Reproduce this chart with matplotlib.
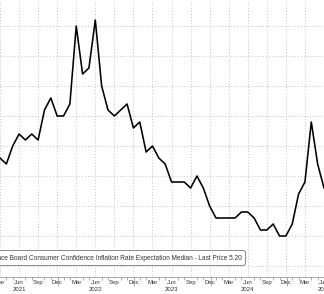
import matplotlib
matplotlib.use("Agg")
import matplotlib.pyplot as plt
import matplotlib.transforms as mtransforms
import numpy as np

plt.rcParams['font.family'] = ['Liberation Sans', 'DejaVu Sans']

# Monthly series, Mar 2021 .. Jun 2025
months = ['Mar', 'Apr', 'May', 'Jun', 'Jul', 'Aug', 'Sep', 'Oct', 'Nov', 'Dec', 'Jan', 'Feb']
start_year = 2021
values = [6.3, 6.2, 6.5, 6.7, 6.6, 6.7, 6.6, 7.1, 7.3, 7.0,   # 2021 Mar-Dec
          7.0, 7.2, 8.5, 7.7, 7.8, 8.6, 7.5, 7.1, 7.0, 7.1, 7.2, 6.8,   # 2022
          6.9, 6.4, 6.5, 6.3, 6.2, 5.9, 5.9, 5.9, 5.8, 6.0, 5.8, 5.5,   # 2023
          5.3, 5.3, 5.3, 5.3, 5.4, 5.4, 5.3, 5.1, 5.1, 5.2, 5.0, 5.0,   # 2024
          5.2, 5.7, 5.9, 6.9, 6.2, 5.8]                                 # 2025
legend_text = ("Conference Board Consumer Confidence Inflation Rate "
               "Expectation Median - Last Price 5.20")

x = np.arange(len(values))

fig = plt.figure(figsize=(3.24, 2.94), dpi=100)
ax = fig.add_axes([0, 17 / 294, 1, 277 / 294])

ax.plot(x, values, color='black', lw=1.15, zorder=3)

ax.set_xlim(0.674, 50.9)
ax.set_ylim(4.317, 8.933)

# quarter ticks with labels, year under Jun
qpos = [i for i in x if i % 3 == 0]
qlab = []
for i in qpos:
    m = months[i % 12]
    yr = start_year + (i + 2) // 12
    qlab.append(m + ("\n%d" % yr if m == 'Jun' else ""))
ax.set_xticks(qpos)
ax.set_xticklabels(qlab, fontsize=4.3, color='#333333', linespacing=1.5, va='top')
ax.set_xticks(x, minor=True)
ax.tick_params(axis='x', which='major', length=0, pad=2)
ax.tick_params(axis='x', which='minor', length=2.5, width=0.5, color='#888888')

ax.set_yticks(np.arange(4.5, 8.6, 0.5))
ax.tick_params(axis='y', left=False, labelleft=False)

ax.grid(True, which='major', color='#c4c4c4', lw=0.7, linestyle=(0, (1, 2)))

for s in ['top', 'left', 'right']:
    ax.spines[s].set_visible(False)
ax.spines['bottom'].set_color('#999999')
ax.spines['bottom'].set_linewidth(0.6)

# year separators
trans = mtransforms.blended_transform_factory(ax.transData, ax.transAxes)
dec_pos = [i + 0.15 for i in x if months[i % 12] == 'Dec']
ax.vlines(dec_pos, -0.034, 0, transform=trans, color='#888888', lw=0.5, clip_on=False)

fig.text(241.7 / 324, 1 - 258 / 294, legend_text, ha='right', va='center',
         fontsize=4.7, color='#333333', zorder=5,
         bbox=dict(boxstyle='round,pad=0.6,rounding_size=0.4', fc='white',
                   ec='#777777', lw=0.6))

fig.savefig("out.png", dpi=100)
